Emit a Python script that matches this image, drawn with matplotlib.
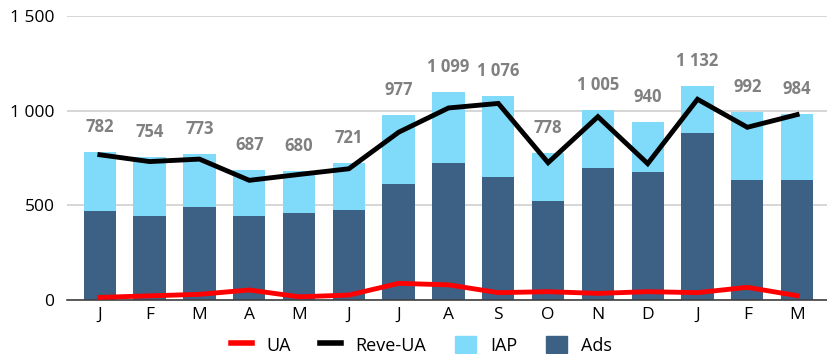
import numpy as np
import matplotlib.pyplot as plt
from matplotlib.lines import Line2D
from matplotlib.patches import Patch

# monthly revenue split (ads + in-app purchases) with UA spend and revenue net of UA
months = ["J", "F", "M", "A", "M", "J", "J", "A", "S", "O", "N", "D", "J", "F", "M"]
total = [782, 754, 773, 687, 680, 721, 977, 1099, 1076, 778, 1005, 940, 1132, 992, 984]
ads = [470, 441, 491, 441, 457, 477, 610, 721, 648, 522, 698, 676, 884, 633, 633]
iap = [t - a for t, a in zip(total, ads)]
ua = [14, 22, 30, 53, 17, 26, 88, 80, 39, 44, 35, 44, 39, 67, 23]
reve_ua = [767, 731, 744, 632, 663, 693, 886, 1014, 1038, 725, 968, 720, 1060, 912, 979]

plt.rcParams['font.family'] = ['Open Sans', 'DejaVu Sans']

fig = plt.figure(figsize=(8.27, 3.54), dpi=100)
ax = fig.add_axes([0.081, 0.1525, 0.919, 0.8025])

x = np.arange(len(months))
ads_col = "#3d6185"
iap_col = "#80dbfb"
ax.bar(x, ads, width=0.65, color=ads_col, zorder=2)
ax.bar(x, iap, width=0.65, bottom=ads, color=iap_col, zorder=2)
ax.plot(x, reve_ua, color="black", lw=3.5, zorder=3, solid_joinstyle="miter")
ax.plot(x, ua, color="#ff0000", lw=3.5, zorder=3, solid_joinstyle="round")

# total labels above each stack
for xi, t in zip(x, total):
    s = f"{t:,}".replace(",", " ")
    ax.annotate(s, (xi, t), xytext=(0, 18), textcoords="offset points",
                ha="center", va="center", fontsize=12, fontweight="bold",
                color="#808080")

ax.set_xlim(-0.66, 14.6)
ax.set_ylim(0, 1500)
ax.set_yticks([0, 500, 1000, 1500])
ax.set_yticklabels(["0", "500", "1 000", "1 500"])
ax.set_xticks(x)
ax.set_xticklabels(months)
ax.tick_params(axis="both", length=0, labelsize=12.5, colors="black")
ax.tick_params(axis="x", pad=5)
ax.tick_params(axis="y", pad=9)
ax.yaxis.grid(True, color="#d0d0d0", lw=1.2, zorder=0)
ax.set_axisbelow(True)
for sp in ["top", "right", "left"]:
    ax.spines[sp].set_visible(False)
ax.spines["bottom"].set_color("#404040")
ax.spines["bottom"].set_linewidth(1.2)

handles = [
    Line2D([0], [0], color="#ff0000", lw=4),
    Line2D([0], [0], color="black", lw=4),
    Patch(color=iap_col),
    Patch(color=ads_col),
]
fig.legend(handles, ["UA", "Reve-UA", "IAP", "Ads"], loc="center",
           bbox_to_anchor=(0.51, 0.025), ncol=4, frameon=False,
           fontsize=13, handlelength=1.15, handleheight=1.1,
           columnspacing=1.6, handletextpad=0.8)

fig.savefig("out.png", dpi=100)
